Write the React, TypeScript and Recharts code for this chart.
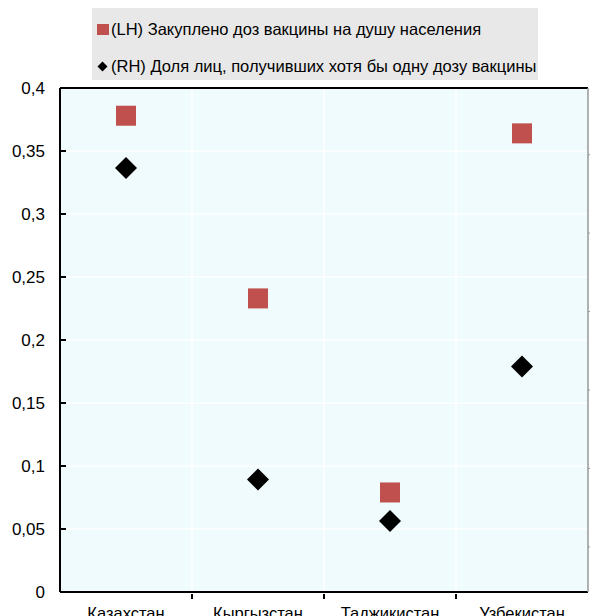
import React from 'react';
import { ComposedChart, Line, XAxis, YAxis, CartesianGrid, ReferenceLine, Legend } from 'recharts';

const countries = ['Казахстан', 'Кыргызстан', 'Таджикистан', 'Узбекистан'];
const dosesPerCapita = [0.378, 0.233, 0.079, 0.364];
const shareVaccinated = [0.483, 0.086, 0.033, 0.23];
const leftTicks = [0, 0.05, 0.1, 0.15, 0.2, 0.25, 0.3, 0.35, 0.4];
const rightTicks = [0, 0.1, 0.2, 0.3, 0.4, 0.5];

const lhLabel = '(LH) Закуплено доз вакцины на душу населения';
const rhLabel = '(RH) Доля лиц, получивших хотя бы одну дозу вакцины';

const W = 590;
const H = 616;
const M = { top: 88, right: 0, bottom: 0, left: 0 };
const LEFT_W = 60;
const RIGHT_W = 2;
const plotW = W - LEFT_W - RIGHT_W;
const band = plotW / countries.length;
const font = '"Liberation Sans", Arial, sans-serif';

const data = countries.map((name, i) => ({ name, lh: dosesPerCapita[i], rh: shareVaccinated[i] }));

const Square = (props: any) => {
  const { cx, cy } = props;
  if (cx == null || cy == null) return null;
  return <rect x={cx - 10} y={cy - 10} width={20} height={20} fill="#c0504d" />;
};

const Diamond = (props: any) => {
  const { cx, cy } = props;
  if (cx == null || cy == null) return null;
  const r = 11;
  return <polygon points={`${cx},${cy - r} ${cx + r},${cy} ${cx},${cy + r} ${cx - r},${cy}`} fill="#000" />;
};

const XTick = (props: any) => {
  const { x, y, payload, index } = props;
  const bx = x + band / 2;
  return (
    <g>
      {index < countries.length - 1 && <line x1={bx} x2={bx} y1={y - 1} y2={y - 6} stroke="#000" strokeWidth={2} />}
      <text x={x} y={y + 19} textAnchor="middle" fontSize={16.5} fontFamily={font} fill="#000">{payload.value}</text>
    </g>
  );
};

// left ticks point into the plot, labels sit further out
const YTick = (props: any) => {
  const { x, y, payload } = props;
  return (
    <g>
      {payload.value > 0 && payload.value < 0.4 && <line x1={x} x2={x + 6} y1={y} y2={y} stroke="#000" strokeWidth={2} />}
      <text x={x - 15} y={y + 6} textAnchor="end" fontSize={17} fontFamily={font} fill="#000">
        {String(payload.value).replace('.', ',')}
      </text>
    </g>
  );
};

const LegendBox = () => (
  <div style={{ background: '#e8e8e8', width: 446, height: 72, fontFamily: font, fontSize: 16.5, color: '#000', position: 'relative' }}>
    <div style={{ position: 'absolute', left: 5, top: 12, display: 'flex', alignItems: 'center', whiteSpace: 'nowrap' }}>
      <span style={{ display: 'inline-block', width: 12, height: 11, background: '#c0504d', marginRight: 2 }} />
      {lhLabel}
    </div>
    <div style={{ position: 'absolute', left: 5, top: 49, display: 'flex', alignItems: 'center', whiteSpace: 'nowrap' }}>
      <svg width={11} height={11} style={{ marginRight: 3 }}>
        <polygon points="5.5,0.5 10.5,5.5 5.5,10.5 0.5,5.5" fill="#000" />
      </svg>
      {rhLabel}
    </div>
  </div>
);

export default function App() {
  return (
    <div style={{ position: 'absolute', left: 0, top: 0, width: W, height: H, background: '#fff' }}>
      <ComposedChart width={W} height={H} data={data} margin={M}>
        <CartesianGrid
          fill="#effbfc"
          stroke="#ffffff"
          strokeWidth={1.5}
          verticalCoordinatesGenerator={({ offset }: any) =>
            countries.slice(1).map((_, i) => offset.left + (i + 1) * (offset.width / countries.length))
          }
          yAxisId="left"
        />
        <XAxis
          dataKey="name"
          scale="band"
          interval={0}
          axisLine={{ stroke: '#000', strokeWidth: 2 }}
          tickLine={false}
          tick={<XTick />}
          height={24}
        />
        <YAxis
          yAxisId="left"
          domain={[0, 0.4]}
          ticks={leftTicks}
          width={LEFT_W}
          axisLine={{ stroke: '#000', strokeWidth: 2 }}
          tickLine={false}
          tickSize={0}
          tickMargin={0}
          tick={<YTick />}
        />
        <YAxis
          yAxisId="right"
          orientation="right"
          domain={[-0.0575, 0.585]}
          ticks={rightTicks}
          width={RIGHT_W}
          axisLine={{ stroke: '#999', strokeWidth: 1.5 }}
          tickLine={{ stroke: '#999' }}
          tickSize={3}
          tick={() => <g />}
          allowDataOverflow
        />
        <ReferenceLine yAxisId="left" y={0.4} stroke="#000" strokeWidth={2} />
        <Legend
          layout="vertical"
          align="center"
          verticalAlign="middle"
          wrapperStyle={{ top: 8, left: 92, width: 446 }}
          content={() => <LegendBox />}
        />
        <Line yAxisId="left" dataKey="lh" stroke="none" dot={<Square />} activeDot={false} isAnimationActive={false} legendType="square" />
        <Line yAxisId="right" dataKey="rh" stroke="none" dot={<Diamond />} activeDot={false} isAnimationActive={false} legendType="diamond" />
      </ComposedChart>
    </div>
  );
}
